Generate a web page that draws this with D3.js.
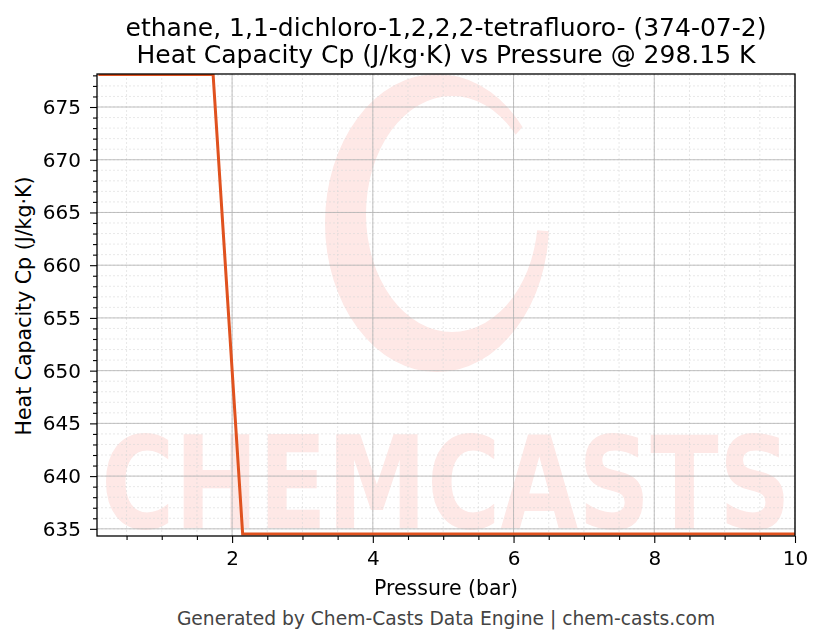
<!DOCTYPE html>
<html><head><meta charset="utf-8">
<script src="https://cdn.jsdelivr.net/npm/d3@7"></script>
<style>body{margin:0;background:#fff;} svg{display:block;font-family:"DejaVu Sans",sans-serif;}</style>
</head><body>
<svg id="c" width="823" height="644"></svg>
<script>
const pressure = [0.1, 0.5, 1.0, 1.5, 1.73, 2.15, 3, 4, 5, 6, 7, 8, 9, 10];
const cp = [678.08, 678.08, 678.08, 678.08, 678.08, 634.52, 634.52, 634.52, 634.52, 634.52, 634.52, 634.52, 634.52, 634.52];
const xTicks = [2, 4, 6, 8, 10];
const yTicks = [635, 640, 645, 650, 655, 660, 665, 670, 675];
const titleLines = ["ethane, 1,1-dichloro-1,2,2,2-tetrafluoro- (374-07-2)", "Heat Capacity Cp (J/kg·K) vs Pressure @ 298.15 K"];

const FONT = "DejaVu Sans";
const svg = d3.select("#c");
const L = 97, R = 795, T = 74, B = 536;
const x = d3.scaleLinear().domain([0.08, 10]).range([L, R]);
const y = d3.scaleLinear().domain([634.32, 678.13]).range([B, T]);

// watermark (crescent "C" logo + wordmark)
const defs = svg.append("defs");
const mask = defs.append("mask").attr("id", "cres");
mask.append("rect").attr("x", 0).attr("y", 0).attr("width", 823).attr("height", 644).attr("fill", "#fff");
mask.append("ellipse").attr("cx", 452).attr("cy", 214).attr("rx", 86).attr("ry", 118).attr("fill", "#000");
mask.append("path").attr("d", "M437,223 L600,40 L600,235 Z").attr("fill", "#000");
const wm = svg.append("g").attr("opacity", 0.12);
wm.append("ellipse").attr("cx", 437).attr("cy", 223).attr("rx", 112).attr("ry", 149)
  .attr("fill", "#f03c2a").attr("mask", "url(#cres)");
wm.append("text").attr("x", 446).attr("y", 528).attr("text-anchor", "middle")
  .attr("font-size", 128).attr("font-weight", "bold").attr("textLength", 690).attr("lengthAdjust", "spacingAndGlyphs")
  .attr("font-family", FONT).attr("fill", "#f03c2a").text("CHEMCASTS");

// minor grid
const xMinor = d3.range(0.5, 10.01, 0.5).filter(v => v > 0.08);
const yMinor = d3.range(635, 678.5, 1);
const g = svg.append("g");
g.selectAll(".xm").data(xMinor).join("line").attr("x1", d => x(d)).attr("x2", d => x(d)).attr("y1", T).attr("y2", B)
  .attr("stroke", "#d8d8d8").attr("stroke-width", 0.6).attr("stroke-dasharray", "2,2");
g.selectAll(".ym").data(yMinor).join("line").attr("y1", d => y(d)).attr("y2", d => y(d)).attr("x1", L).attr("x2", R)
  .attr("stroke", "#d8d8d8").attr("stroke-width", 0.6).attr("stroke-dasharray", "2,2");
// major grid
g.selectAll(".xg").data(xTicks).join("line").attr("x1", d => x(d)).attr("x2", d => x(d)).attr("y1", T).attr("y2", B)
  .attr("stroke", "#b0b0b0").attr("stroke-width", 0.8);
g.selectAll(".yg").data(yTicks).join("line").attr("y1", d => y(d)).attr("y2", d => y(d)).attr("x1", L).attr("x2", R)
  .attr("stroke", "#b0b0b0").attr("stroke-width", 0.8);

// line
defs.append("clipPath").attr("id", "clip").append("rect").attr("x", L).attr("y", T).attr("width", R-L).attr("height", B-T);
svg.append("path").datum(pressure.map((p, i) => [p, cp[i]]))
  .attr("clip-path", "url(#clip)")
  .attr("d", d3.line().x(d => x(d[0])).y(d => y(d[1])))
  .attr("fill", "none").attr("stroke", "#e0521f").attr("stroke-width", 3);

// axes
const xa = svg.append("g").attr("transform", `translate(0,${B})`)
  .call(d3.axisBottom(x).tickValues(xTicks).tickFormat(d3.format("d")).tickSize(7).tickPadding(8));
const xam = svg.append("g").attr("transform", `translate(0,${B})`)
  .call(d3.axisBottom(x).tickValues(xMinor.filter(v => !xTicks.includes(v))).tickFormat("").tickSize(4));
const ya = svg.append("g").attr("transform", `translate(${L},0)`)
  .call(d3.axisLeft(y).tickValues(yTicks).tickFormat(d3.format("d")).tickSize(7).tickPadding(9));
const yam = svg.append("g").attr("transform", `translate(${L},0)`)
  .call(d3.axisLeft(y).tickValues(yMinor.filter(v => !yTicks.includes(v))).tickFormat("").tickSize(4));
[xam, yam].forEach(a => a.selectAll("text").remove());
[xa, xam, ya, yam].forEach(a => {
  a.select(".domain").remove();
  a.selectAll("line").attr("stroke", "#000").attr("stroke-width", 1.1);
  a.selectAll("text").attr("font-size", 20).attr("fill", "#000").attr("font-family", FONT);
});
svg.append("rect").attr("x", L).attr("y", T).attr("width", R-L).attr("height", B-T)
  .attr("fill", "none").attr("stroke", "#000").attr("stroke-width", 1.3);

// titles
svg.selectAll(".t").data(titleLines).join("text").attr("x", 446).attr("y", (d, i) => 36 + i*27)
  .attr("text-anchor", "middle").attr("font-size", 25).attr("font-family", FONT).attr("fill", "#000").text(d => d);
svg.append("text").attr("x", 446).attr("y", 595).attr("text-anchor", "middle").attr("font-size", 20.5).attr("font-family", FONT).text("Pressure (bar)");
svg.append("text").attr("transform", "translate(31,306) rotate(-90)").attr("text-anchor", "middle").attr("font-size", 20.5).attr("font-family", FONT).text("Heat Capacity Cp (J/kg·K)");
svg.append("text").attr("x", 446).attr("y", 625).attr("text-anchor", "middle").attr("font-size", 18.7).attr("font-family", FONT).attr("fill", "#444").text("Generated by Chem-Casts Data Engine | chem-casts.com");
</script>
</body></html>
